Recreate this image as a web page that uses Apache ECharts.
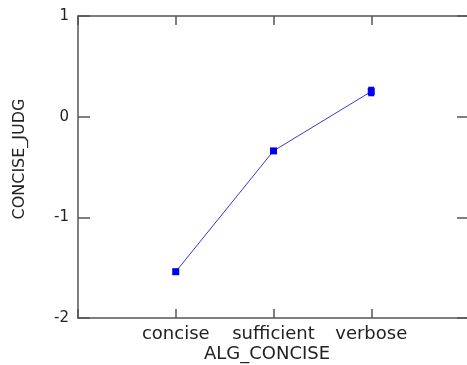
<!DOCTYPE html>
<html>
<head>
<meta charset="utf-8">
<script src="https://cdn.jsdelivr.net/npm/echarts@6/dist/echarts.min.js"></script>
<style>
  html, body { margin: 0; padding: 0; background: #fff; }
  #main { width: 467px; height: 365px; }
</style>
</head>
<body>
<div id="main"></div>
<script>
// data
var categories = ['concise', 'sufficient', 'verbose'];
var catPos = [1, 2, 3];
var means = [-1.54, -0.34, 0.25];
var errors = [0.02, 0.02, 0.04];
var yTicks = [1, 0, -1, -2];

var axisColor = '#555555';
var pts = catPos.map(function (x, i) { return [x, means[i]]; });
var bars = catPos.map(function (x, i) { return [x, means[i] - errors[i], means[i] + errors[i]]; });

var line = { onZero: false, lineStyle: { color: axisColor, width: 1.5 } };

var myChart = echarts.init(document.getElementById('main'));
var option = {
  animation: false,
  grid: { left: 78, top: 16, width: 391, height: 302, outerBoundsMode: 'none' },
  xAxis: [{
    type: 'value', min: 0, max: 4, interval: 1, position: 'bottom',
    axisLine: line,
    axisTick: { inside: true, length: 9, lineStyle: { color: axisColor, width: 1.5 } },
    splitLine: { show: false },
    axisLabel: {
      margin: 7, color: '#222', fontFamily: 'DejaVu Sans', fontSize: 18,
      formatter: function (v) {
        var k = catPos.indexOf(v);
        return k >= 0 ? categories[k] : '';
      }
    }
  }, {
    type: 'value', min: 0, max: 4, interval: 1, position: 'top',
    axisLine: line,
    axisTick: { inside: true, length: 9, lineStyle: { color: axisColor, width: 1.5 } },
    axisLabel: { show: false }, splitLine: { show: false }
  }],
  yAxis: [{
    type: 'value', min: -2, max: 1, interval: 1, position: 'left',
    axisLine: { show: true, onZero: false, lineStyle: { color: axisColor, width: 1.5 } },
    axisTick: { show: true, inside: true, length: 12, lineStyle: { color: axisColor, width: 1.5 } },
    splitLine: { show: false },
    axisLabel: {
      margin: 9, color: '#222', fontFamily: 'DejaVu Sans', fontSize: 15,
      formatter: function (v) { return yTicks.indexOf(v) >= 0 ? String(v) : ''; }
    }
  }, {
    type: 'value', min: -2, max: 1, interval: 1, position: 'right',
    axisLine: { show: true, onZero: false, lineStyle: { color: axisColor, width: 1.5 } },
    axisTick: { show: true, inside: true, length: 12, lineStyle: { color: axisColor, width: 1.5 } },
    axisLabel: { show: false }, splitLine: { show: false }
  }],
  graphic: [{
    type: 'text', x: 267, y: 354,
    style: { text: 'ALG_CONCISE', x: 0, y: 0, fill: '#222', font: '18px "DejaVu Sans"', textAlign: 'center', textVerticalAlign: 'middle' }
  }, {
    type: 'text', x: 20, y: 159, rotation: Math.PI / 2,
    style: { text: 'CONCISE_JUDG', x: 0, y: 0, fill: '#222', font: '16px "DejaVu Sans"', textAlign: 'center', textVerticalAlign: 'middle' }
  }],
  series: [{
    type: 'line', data: pts,
    lineStyle: { color: '#3838d0', width: 1 },
    itemStyle: { color: '#0000ee' },
    symbol: 'rect', symbolSize: 7
  }, {
    type: 'custom', data: bars,
    renderItem: function (params, api) {
      var top = api.coord([api.value(0), api.value(2)]);
      var bot = api.coord([api.value(0), api.value(1)]);
      var w = 3;
      var st = { stroke: '#0000ee', lineWidth: 1.5 };
      return {
        type: 'group', children: [
          { type: 'line', shape: { x1: top[0], y1: top[1], x2: bot[0], y2: bot[1] }, style: st },
          { type: 'line', shape: { x1: top[0] - w, y1: top[1], x2: top[0] + w, y2: top[1] }, style: st },
          { type: 'line', shape: { x1: bot[0] - w, y1: bot[1], x2: bot[0] + w, y2: bot[1] }, style: st }
        ]
      };
    },
    z: 3
  }]
};
myChart.setOption(option);
</script>
</body>
</html>
